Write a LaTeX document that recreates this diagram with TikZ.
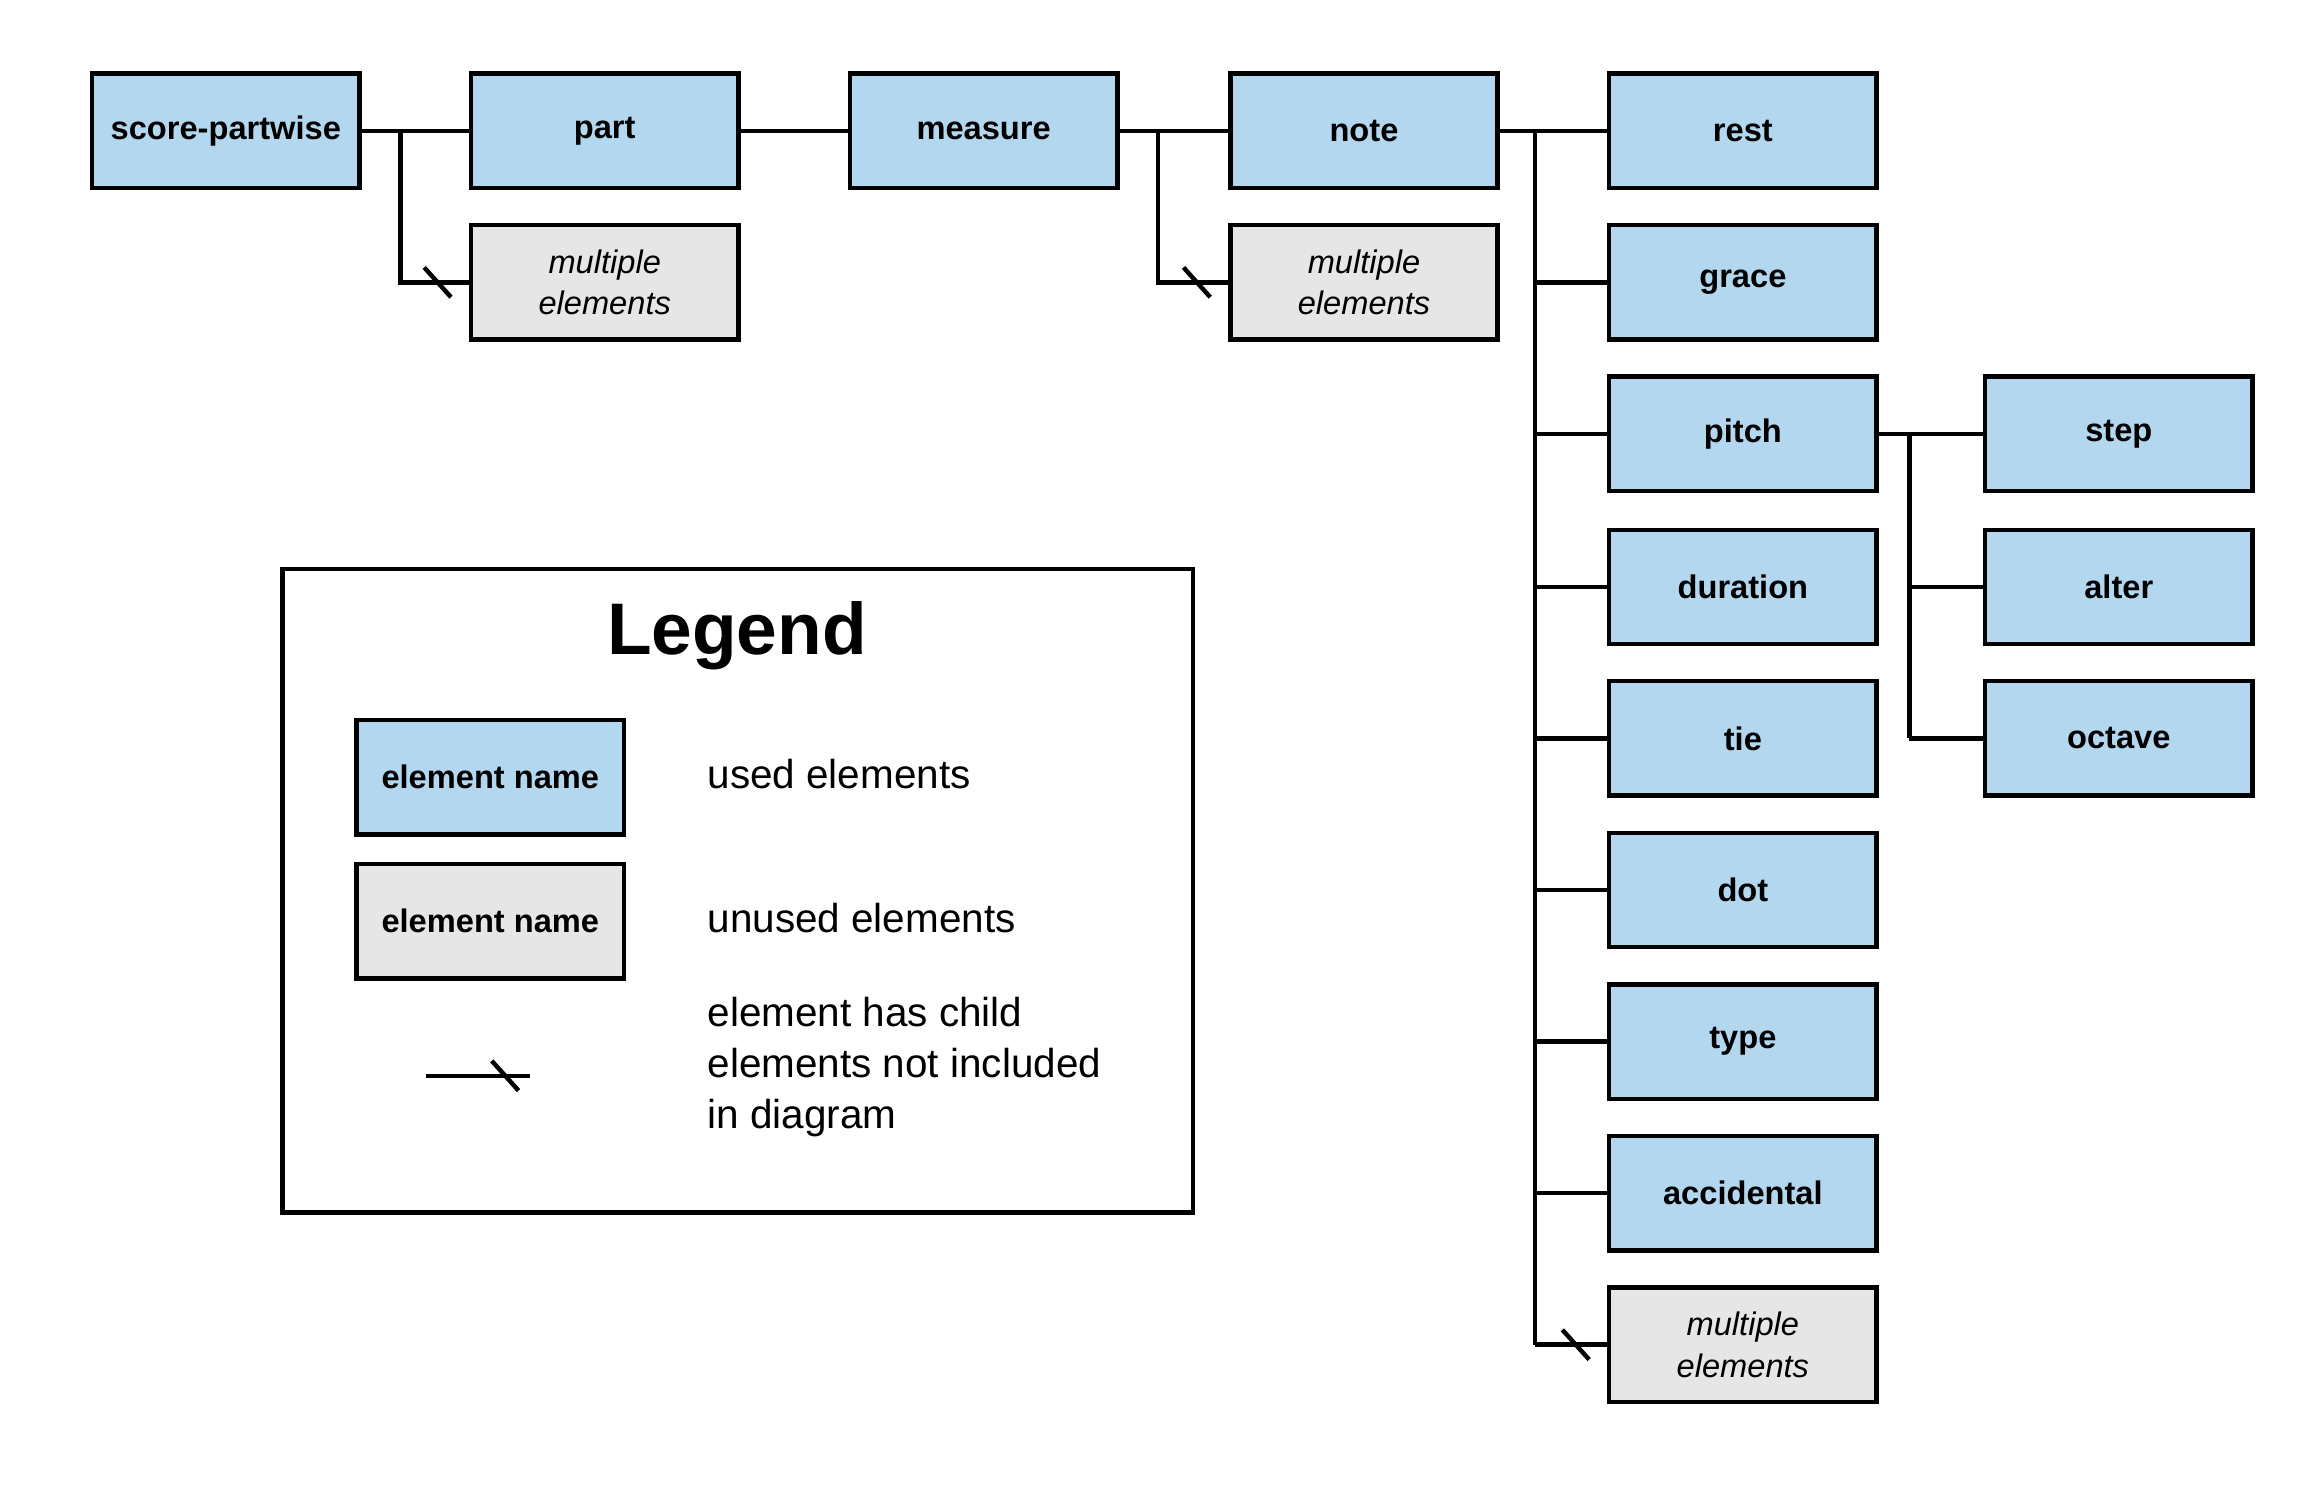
\documentclass[tikz,border=0pt]{standalone}
\usepackage{fontspec}
\setmainfont{Liberation Sans}
\usetikzlibrary{positioning,calc}

\definecolor{usedblue}{HTML}{B3D7EE}
\definecolor{unusedgray}{HTML}{E6E6E6}

\tikzset{
	elem/.style={draw, line width=1.7pt, fill=usedblue, minimum width=3.6cm, minimum height=1.54cm, inner sep=0pt, font=\fontsize{12.5}{14}\selectfont\bfseries},
	unused/.style={elem, fill=unusedgray},
	multi/.style={unused, font=\fontsize{12.5}{16}\selectfont\itshape, align=center},
	link/.style={line width=1.7pt},
	cut/.style={line width=1.7pt},
	legtext/.style={anchor=west, align=left, font=\fontsize{15.5}{19.5}\selectfont}
}

\begin{document}
\begin{tikzpicture}[x=0.02cm, y=-0.02cm]
	\useasboundingbox (0,0) rectangle (1550,1015);

	% Main chain
	\node[elem] (score) at (152,88) {score-partwise};
	\node[elem] (part) at (407,88) {part};
	\node[elem] (measure) at (662,88) {measure};
	\node[elem] (note) at (918,88) {note};
	\node[multi] (partmult) at (407,190) {multiple\\elements};
	\node[multi] (measmult) at (918,190) {multiple\\elements};

	% Children of note
	\node[elem] (rest) at (1173,88) {rest};
	\node[elem] (grace) at (1173,190) {grace};
	\node[elem] (pitch) at (1173,292) {pitch};
	\node[elem] (duration) at (1173,395) {duration};
	\node[elem] (tie) at (1173,497) {tie};
	\node[elem] (dot) at (1173,599) {dot};
	\node[elem] (type) at (1173,701) {type};
	\node[elem] (accidental) at (1173,803) {accidental};
	\node[multi] (notemult) at (1173,905) {multiple\\elements};

	% Children of pitch
	\node[elem] (step) at (1426,292) {step};
	\node[elem] (alter) at (1426,395) {alter};
	\node[elem] (octave) at (1426,497) {octave};

	% Connectors
	\draw[link] (score.east) -- (part.west);
	\draw[link] (part.east) -- (measure.west);
	\draw[link] (measure.east) -- (note.west);
	\draw[link] (score.east) -- ++(26,0) |- (partmult.west);
	\draw[link] (measure.east) -- ++(26,0) |- (measmult.west);
	\draw[cut] ($(partmult.west)+(-21,0)$) ++(-9,-10) -- ++(18,20);
	\draw[cut] ($(measmult.west)+(-21,0)$) ++(-9,-10) -- ++(18,20);

	\coordinate (trunk) at (1033,88);
	\draw[link] (note.east) -- (rest.west);
	\draw[link] (trunk) -- (trunk |- notemult.west);
	\foreach \child in {grace,pitch,duration,tie,dot,type,accidental,notemult}
		\draw[link] (trunk |- \child.west) -- (\child.west);
	\draw[cut] ($(notemult.west)+(-21,0)$) ++(-9,-10) -- ++(18,20);

	\coordinate (ptrunk) at (1285,292);
	\draw[link] (pitch.east) -- (step.west);
	\draw[link] (ptrunk) -- (ptrunk |- octave.west);
	\foreach \child in {alter,octave}
		\draw[link] (ptrunk |- \child.west) -- (\child.west);

	% Legend
	\node[draw, line width=1.7pt, minimum width=12.26cm, minimum height=8.66cm] (legend) at (496.5,599.5) {};
	\node[font=\fontsize{28}{32}\selectfont\bfseries] (legtitle) at (496,428) {Legend};
	\node[elem] (legused) at (330,523) {element name};
	\node[unused] (legunused) at (330,620) {element name};
	\node[legtext] (usedtxt) at (470,521) {used elements};
	\node[legtext] (unusedtxt) at (470,618) {unused elements};
	\node[legtext] (cuttxt) at (470,718) {element has child\\elements not included\\in diagram};
	\coordinate (cutA) at (287,724);
	\coordinate (cutB) at (357,724);
	\draw[link] (cutA) -- (cutB);
	\draw[cut] (331,714) -- ++(18,20);
\end{tikzpicture}
\end{document}
